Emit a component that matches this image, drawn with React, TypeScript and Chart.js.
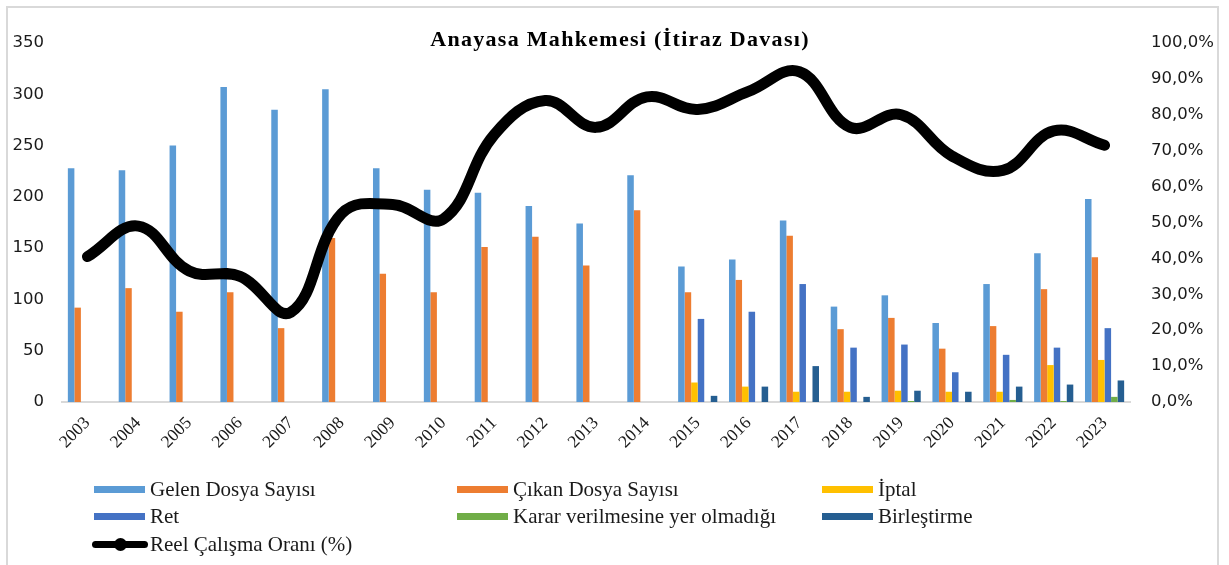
import React, { useEffect, useRef } from 'react';
import { Chart, registerables } from 'chart.js';

Chart.register(...registerables);

const years = ['2003', '2004', '2005', '2006', '2007', '2008', '2009', '2010', '2011', '2012', '2013', '2014', '2015', '2016', '2017', '2018', '2019', '2020', '2021', '2022', '2023'];
const gelen = [228, 226, 250, 307, 285, 305, 228, 207, 204, 191, 174, 221, 132, 139, 177, 93, 104, 77, 115, 145, 198];
const cikan = [92, 111, 88, 107, 72, 160, 125, 107, 151, 161, 133, 187, 107, 119, 162, 71, 82, 52, 74, 110, 141];
const iptal = [null, null, null, null, null, null, null, null, null, null, null, null, 19, 15, 10, 10, 11, 10, 10, 36, 41];
const ret = [null, null, null, null, null, null, null, null, null, null, null, null, 81, 88, 115, 53, 56, 29, 46, 53, 72];
const karar = [null, null, null, null, null, null, null, null, null, null, null, null, 0, 0, 0, 0, 1, 0, 2, 1, 5];
const birlestirme = [null, null, null, null, null, null, null, null, null, null, null, null, 6, 15, 35, 5, 11, 10, 15, 17, 21];
const reel = [40.5, 49, 36.5, 35, 25, 52.5, 55, 51, 74.5, 84, 76.5, 85, 81.5, 86.5, 92, 76.5, 80, 68.5, 64.5, 75.5, 71.5];

const leftTicks = { min: 0, max: 350, step: 50 };
const rightTicks = { min: 0, max: 100, step: 10 };

const title = 'Anayasa Mahkemesi (İtiraz Davası)';

const barSeries = [
  { label: 'Gelen Dosya Sayısı', data: gelen, color: '#5B9BD5' },
  { label: 'Çıkan Dosya Sayısı', data: cikan, color: '#ED7D31' },
  { label: 'İptal', data: iptal, color: '#FFC000' },
  { label: 'Ret', data: ret, color: '#4472C4' },
  { label: 'Karar verilmesine yer olmadığı', data: karar, color: '#70AD47' },
  { label: 'Birleştirme', data: birlestirme, color: '#255E91' },
];
const lineLabel = 'Reel Çalışma Oranı (%)';

export default function App() {
  const ref = useRef<HTMLCanvasElement | null>(null);

  useEffect(() => {
    document.body.style.margin = '0';
    const canvas = ref.current;
    if (!canvas) return;
    const chart = new Chart(canvas, {
      type: 'bar',
      data: {
        labels: years,
        datasets: [
          {
            type: 'line',
            label: lineLabel,
            data: reel,
            yAxisID: 'y1',
            borderColor: '#000000',
            backgroundColor: '#000000',
            borderWidth: 11,
            tension: 0.4,
            pointRadius: 4,
            pointBorderWidth: 0,
            pointBackgroundColor: '#000000',
            borderCapStyle: 'round',
            borderJoinStyle: 'round',
            order: 0,
          } as any,
          ...barSeries.map((s) => ({
            type: 'bar',
            label: s.label,
            data: s.data,
            yAxisID: 'y',
            backgroundColor: s.color,
            borderWidth: 0,
            categoryPercentage: 0.77,
            barPercentage: 1,
            order: 1,
          })) as any,
        ],
      },
      options: {
        responsive: false,
        animation: false,
        layout: { padding: { top: 43, left: 0, right: 0, bottom: 0 } },
        plugins: {
          legend: { display: false },
          title: { display: false },
          tooltip: { enabled: false },
        },
        scales: {
          x: {
            grid: { display: false, drawTicks: false },
            border: { display: true, color: '#D9D9D9', width: 2 },
            ticks: {
              minRotation: 45,
              maxRotation: 45,
              padding: 11,
              color: '#1a1a1a',
              font: { family: '"Liberation Serif", serif', size: 17.5 },
            },
            afterFit: (s: any) => {
              s.height = 163;
            },
          },
          y: {
            position: 'left',
            min: leftTicks.min,
            max: leftTicks.max,
            grid: { display: false, drawTicks: false },
            border: { display: false },
            ticks: {
              stepSize: leftTicks.step,
              padding: 18,
              color: '#1a1a1a',
              font: { family: '"DejaVu Sans", sans-serif', size: 16.5 },
            },
            afterFit: (s: any) => {
              s.width = 62;
            },
          },
          y1: {
            position: 'right',
            min: rightTicks.min,
            max: rightTicks.max,
            grid: { display: false, drawTicks: false },
            border: { display: false },
            ticks: {
              stepSize: rightTicks.step,
              padding: 21,
              color: '#1a1a1a',
              font: { family: '"DejaVu Sans", sans-serif', size: 16.5 },
              callback: (v: any) => Number(v).toFixed(1).replace('.', ',') + '%',
            },
            afterFit: (s: any) => {
              s.width = 99;
            },
          },
        },
      },
    });
    return () => chart.destroy();
  }, []);

  const legendFont: React.CSSProperties = {
    fontFamily: '"Liberation Serif", "Times New Roman", serif',
    fontSize: 21,
    color: '#1a1a1a',
    lineHeight: '24px',
    whiteSpace: 'nowrap',
  };
  const cols = [94, 457, 822];
  const rows = [489, 516, 544];

  const items = barSeries.map((s, i) => {
    const col = cols[i % 3];
    const row = rows[Math.floor(i / 3)];
    return (
      <div key={s.label} style={{ position: 'absolute', left: col, top: row - 12, height: 24, display: 'flex', alignItems: 'center', ...legendFont }}>
        <span style={{ display: 'inline-block', width: 51, height: 7, background: s.color, marginRight: 5 }} />
        <span>{s.label}</span>
      </div>
    );
  });

  return (
    <div style={{ position: 'relative', width: 1229, height: 565, overflow: 'hidden', background: '#fff' }}>
      <canvas ref={ref} width={1229} height={565} style={{ position: 'absolute', left: 0, top: 0, width: 1229, height: 565 }} />
      <div style={{ position: 'absolute', left: 6, top: 6, width: 1213, height: 566, border: '2px solid #D9D9D9', boxSizing: 'border-box', pointerEvents: 'none' }} />
      <div
        style={{
          position: 'absolute',
          left: 620,
          top: 28,
          transform: 'translateX(-50%)',
          fontFamily: '"Liberation Serif", "Times New Roman", serif',
          fontWeight: 'bold',
          fontSize: 22,
          lineHeight: '22px',
          letterSpacing: '1.3px',
          whiteSpace: 'nowrap',
          color: '#000',
        }}
      >
        {title}
      </div>
      {items}
      <div style={{ position: 'absolute', left: 92, top: rows[2] - 12, height: 24, display: 'flex', alignItems: 'center', ...legendFont }}>
        <span style={{ position: 'relative', display: 'inline-block', width: 56, height: 7, background: '#000', borderRadius: 4, marginRight: 2 }}>
          <span style={{ position: 'absolute', left: 22, top: -3, width: 13, height: 13, borderRadius: '50%', background: '#000' }} />
        </span>
        <span>{lineLabel}</span>
      </div>
    </div>
  );
}
